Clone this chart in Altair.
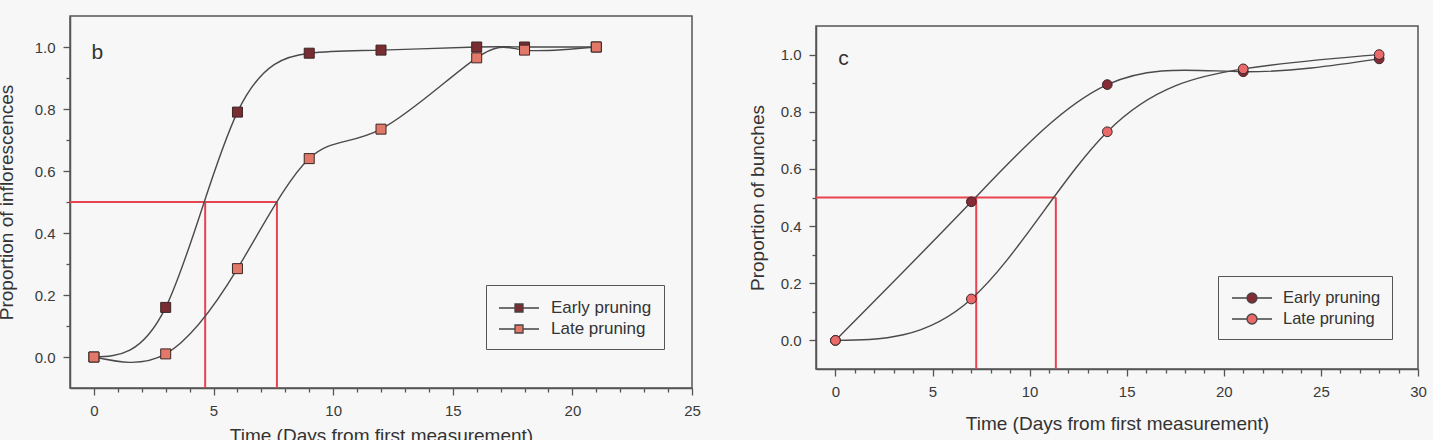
import altair as alt
import pandas as pd

# ---------------- data: panel b (inflorescences) ----------------
b_days = [0, 3, 6, 9, 12, 16, 18, 21]
b_early = [0.0, 0.16, 0.79, 0.98, 0.99, 1.0, 1.0, 1.0]
b_late = [0.0, 0.01, 0.285, 0.64, 0.735, 0.965, 0.99, 1.0]
b_half = [4.65, 7.65]          # days at 50 % (early, late)

# ---------------- data: panel c (bunches) ----------------
c_days = [0, 7, 14, 21, 28]
c_early = [0.0, 0.485, 0.895, 0.94, 0.985]
c_late = [0.0, 0.145, 0.73, 0.95, 1.0]
c_half = [7.25, 11.35]

series = ["Early pruning", "Late pruning"]
b_colors = ["#7a2c33", "#e27868"]
c_colors = ["#862b36", "#e96a68"]

b_xdom = [-1, 25]
c_xdom = [-1, 30]
ydom = [-0.1, 1.1]
y_ticks = [0.0, 0.1, 0.2, 0.3, 0.4, 0.5, 0.6, 0.7, 0.8, 0.9, 1.0]
b_x_ticks = list(range(0, 26))
c_x_ticks = list(range(0, 31))

FONT = "Liberation Sans"
BG = "#f7f7f7"
RED = "#e8434f"


def long_df(days, early, late):
    rows = []
    for d, v in zip(days, early):
        rows.append({"day": d, "p": v, "s": series[0]})
    for d, v in zip(days, late):
        rows.append({"day": d, "p": v, "s": series[1]})
    return pd.DataFrame(rows)


def x_axis(ticks, tpad):
    return alt.Axis(
        values=ticks,
        labelExpr="datum.value % 5 === 0 ? datum.label : ''",
        tickSize={"condition": {"test": "datum.value % 5 === 0", "value": 7}, "value": 4},
        format="d", labelOverlap=False, labelFlush=False,
        title="Time (Days from first measurement)", titlePadding=tpad,
    )


def y_axis(title, tpad):
    return alt.Axis(
        values=y_ticks,
        labelExpr="round(datum.value * 10) % 2 === 0 ? datum.label : ''",
        tickSize={"condition": {"test": "round(datum.value * 10) % 2 === 0", "value": 7}, "value": 4},
        format=".1f", labelOverlap=False, labelFlush=False,
        title=title, titlePadding=tpad,
    )


def panel(days, early, late, half, xdom, xticks, colors, shape, ytitle, letter,
          letter_xy, w, h, legend_xy, symbol_path, size, ytpad, xtpad,
          lpad, rowpad, soff, loff, lfs):
    df = long_df(days, early, late)
    xs = alt.Scale(domain=xdom, nice=False, zero=False)
    ys = alt.Scale(domain=ydom, nice=False, zero=False)
    xa = x_axis(xticks, xtpad)
    ya = y_axis(ytitle, ytpad)

    rules_df = pd.DataFrame({
        "x": [xdom[0], half[0], half[1]],
        "x2": [half[1], half[0], half[1]],
        "y": [0.5, 0.5, 0.5],
        "y2": [0.5, ydom[0], ydom[0]],
    })
    rules = alt.Chart(rules_df).mark_rule(color=RED, strokeWidth=2).encode(
        x=alt.X("x:Q", scale=xs, axis=xa), x2="x2:Q",
        y=alt.Y("y:Q", scale=ys, axis=ya), y2="y2:Q",
    )

    lines = alt.Chart(df).mark_line(interpolate="natural", color="#4a4a4a", strokeWidth=1.4).encode(
        x=alt.X("day:Q", scale=xs, axis=xa), y=alt.Y("p:Q", scale=ys, axis=ya), detail="s:N"
    )

    pts = alt.Chart(df).mark_point(shape=shape, filled=True, size=size, stroke="#3a2626",
                                   strokeWidth=1, opacity=1).encode(
        x=alt.X("day:Q", scale=xs, axis=xa), y=alt.Y("p:Q", scale=ys, axis=ya),
        fill=alt.Fill("s:N", scale=alt.Scale(domain=series, range=colors),
                      legend=alt.Legend(
                          title=None, orient="none",
                          legendX=legend_xy[0], legendY=legend_xy[1],
                          strokeColor="#555", fillColor=BG, padding=lpad,
                          symbolType=symbol_path, symbolSize=400,
                          symbolOffset=soff,
                          symbolStrokeColor="#444", symbolStrokeWidth=1.3,
                          labelFont=FONT, labelFontSize=lfs, labelColor="#333",
                          rowPadding=rowpad, labelOffset=loff,
                      )),
    )

    txt_df = pd.DataFrame({"x": [letter_xy[0]], "y": [letter_xy[1]], "t": [letter]})
    txt = alt.Chart(txt_df).mark_text(font=FONT, fontSize=21, color="#333", align="left",
                                      baseline="middle").encode(
        x=alt.X("x:Q", scale=xs, axis=xa), y=alt.Y("y:Q", scale=ys, axis=ya),
        text="t:N",
    )

    return alt.layer(rules, lines, pts, txt).properties(
        width=w, height=h,
        view=alt.ViewBackground(stroke="#555", strokeWidth=1.5),
    )


sq_path = "M-2,0H-0.4M0.4,0H2M-0.4,-0.4H0.4V0.4H-0.4Z"
ci_path = "M-2,0H-0.5M0.5,0H2M-0.5,0A0.5,0.5 0 1,0 0.5,0A0.5,0.5 0 1,0 -0.5,0Z"

left = panel(b_days, b_early, b_late, b_half, b_xdom, b_x_ticks, b_colors, "square",
             "Proportion of inflorescences", "b", [-0.1, 0.98], 622, 372, [416, 269],
             sq_path, 100, 18, 8, 12, 2, 10, 21, 17)
right = panel(c_days, c_early, c_late, c_half, c_xdom, c_x_ticks, c_colors, "circle",
              "Proportion of bunches", "c", [0.15, 0.985], 602, 343, [402, 260],
              ci_path, 95, 13, 15, 11, 1, 12, 20, 16.5)

spacer = alt.Chart(pd.DataFrame({"a": [0]})).mark_point(opacity=0).encode(
    x=alt.value(0), y=alt.value(0)
).properties(width=1, height=9, view=alt.ViewBackground(strokeOpacity=0))

right_col = alt.vconcat(spacer, right, spacing=0)

chart = alt.hconcat(left, right_col, spacing=45).resolve_scale(
    fill="independent"
).resolve_legend(fill="independent").properties(
    background=BG,
    padding={"left": -4, "top": 13, "right": 5, "bottom": 5},
).configure_view(stroke="transparent").configure_axis(
    labelFont=FONT, titleFont=FONT, labelFontSize=15, titleFontSize=19,
    labelColor="#3a3a3a", titleColor="#333", domainColor="#555", tickColor="#555",
    domainWidth=1.5, tickWidth=1.3, labelPadding=8,
    titleFontWeight="normal", grid=False,
)

chart.save("out.html", embed_options={"renderer": "svg", "actions": False})
